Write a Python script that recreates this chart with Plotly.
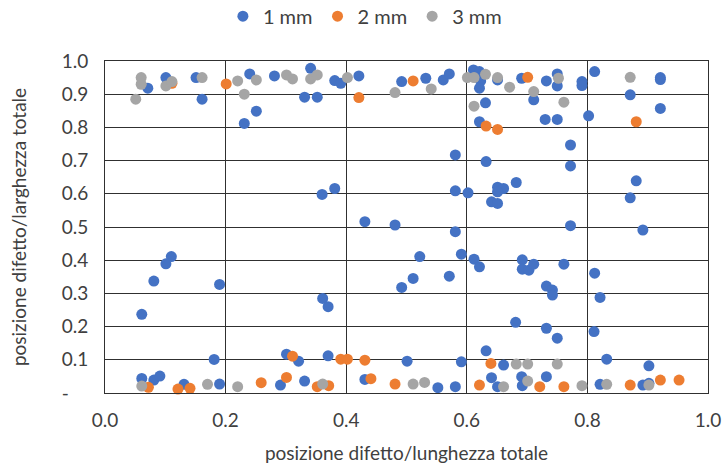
import plotly.graph_objects as go

# 1 mm series
x1 = [0.071,0.101,0.151,0.161,0.240,0.251,0.231,0.281,0.341,0.331,0.352,0.381,0.391,0.421,0.492,
      0.532,0.561,0.571,0.611,0.621,0.623,0.621,0.631,0.651,0.691,0.711,0.732,0.750,0.750,0.621,
      0.730,0.750,0.581,0.632,0.791,0.791,0.812,0.921,0.921,0.871,0.921,0.802,0.772,0.772,0.360,
      0.381,0.431,0.481,0.110,0.101,0.081,0.190,0.492,0.581,0.602,0.651,0.661,0.651,0.682,0.641,
      0.651,0.881,0.871,0.772,0.892,0.581,0.522,0.591,0.612,0.621,0.692,0.692,0.703,0.711,0.761,
      0.812,0.511,0.571,0.732,0.742,0.742,0.361,0.370,0.681,0.732,0.750,0.821,0.811,0.061,0.181,
      0.301,0.321,0.370,0.501,0.591,0.632,0.661,0.832,0.902,0.061,0.081,0.091,0.131,0.190,0.291,
      0.331,0.431,0.552,0.581,0.641,0.651,0.691,0.692,0.732,0.821,0.892,0.902]
y1 = [0.918,0.950,0.950,0.885,0.961,0.849,0.812,0.955,0.978,0.891,0.891,0.941,0.933,0.955,0.938,
      0.948,0.943,0.961,0.973,0.968,0.940,0.918,0.874,0.943,0.948,0.883,0.940,0.961,0.925,0.817,
      0.824,0.824,0.717,0.697,0.938,0.926,0.968,0.950,0.944,0.898,0.857,0.835,0.747,0.684,0.598,
      0.616,0.516,0.506,0.411,0.389,0.337,0.327,0.318,0.609,0.603,0.620,0.616,0.606,0.634,0.576,
      0.571,0.639,0.588,0.504,0.491,0.486,0.411,0.418,0.403,0.380,0.401,0.373,0.370,0.388,0.388,
      0.361,0.345,0.352,0.322,0.310,0.295,0.285,0.260,0.213,0.195,0.165,0.288,0.185,0.237,0.101,
      0.117,0.096,0.112,0.096,0.094,0.127,0.084,0.102,0.082,0.044,0.039,0.051,0.026,0.027,0.024,
      0.036,0.041,0.016,0.019,0.046,0.019,0.049,0.022,0.049,0.026,0.024,0.029]

# 2 mm series
x2 = [0.111,0.201,0.421,0.511,0.701,0.632,0.651,0.881,0.311,0.391,0.402,0.431,0.640,0.072,0.121,
      0.141,0.259,0.301,0.352,0.371,0.441,0.481,0.621,0.721,0.761,0.871,0.921,0.952]
y2 = [0.933,0.931,0.890,0.940,0.951,0.804,0.794,0.817,0.111,0.102,0.102,0.099,0.089,0.017,0.012,
      0.014,0.031,0.047,0.019,0.022,0.043,0.027,0.024,0.019,0.019,0.024,0.039,0.039]

# 3 mm series
x3 = [0.060,0.060,0.051,0.101,0.111,0.161,0.220,0.251,0.231,0.301,0.311,0.341,0.352,0.402,0.481,
      0.541,0.601,0.612,0.631,0.612,0.651,0.671,0.711,0.752,0.761,0.871,0.682,0.701,0.750,0.061,
      0.170,0.220,0.361,0.511,0.530,0.661,0.701,0.791,0.832,0.902]
y3 = [0.950,0.930,0.885,0.925,0.938,0.950,0.940,0.943,0.900,0.958,0.946,0.946,0.958,0.950,0.905,
      0.916,0.950,0.950,0.960,0.864,0.950,0.921,0.908,0.948,0.876,0.951,0.087,0.087,0.087,0.021,
      0.026,0.019,0.027,0.027,0.032,0.019,0.036,0.022,0.026,0.024]

series_names = ["1 mm", "2 mm", "3 mm"]
colors = ["#4472C4", "#ED7D31", "#A5A5A5"]

y_tickvals = [0, 0.1, 0.2, 0.3, 0.4, 0.5, 0.6, 0.7, 0.8, 0.9, 1.0]
y_ticktext = ["-\u00a0\u00a0\u00a0\u00a0", "0.1", "0.2", "0.3", "0.4", "0.5", "0.6", "0.7", "0.8", "0.9", "1.0"]
x_tickvals = [0.0, 0.2, 0.4, 0.6, 0.8, 1.0]
x_ticktext = ["0.0", "0.2", "0.4", "0.6", "0.8", "1.0"]

fig = go.Figure()
for xs, ys, name, c in zip([x1, x2, x3], [y1, y2, y3], series_names, colors):
    fig.add_trace(go.Scatter(x=xs, y=ys, mode="markers", name=name,
                             marker=dict(color=c, size=11, line=dict(width=0)),
                             cliponaxis=False))

font_family = "Lato, 'Open Sans', sans-serif"
fig.update_layout(
    width=726, height=466,
    margin=dict(l=105, r=18, t=61, b=73, autoexpand=False),
    paper_bgcolor="white", plot_bgcolor="white",
    font=dict(family=font_family, size=19, color="#404040"),
    legend=dict(orientation="h", x=0.431, xanchor="center", y=1.135, yanchor="middle",
                font=dict(size=20, color="#404040"), itemwidth=30, tracegroupgap=0),
    showlegend=True,
)
fig.update_xaxes(range=[0, 1.0], tickvals=x_tickvals, ticktext=x_ticktext,
                 showgrid=True, gridcolor="#303030", gridwidth=1,
                 showline=True, linecolor="#303030", linewidth=1, mirror=True,
                 zeroline=False, ticks="", ticklabelstandoff=10, automargin=False,
                 title=dict(text="posizione difetto/lunghezza totale", font=dict(size=19), standoff=16))
fig.update_yaxes(range=[0, 1.0], tickvals=y_tickvals, ticktext=y_ticktext,
                 showgrid=True, gridcolor="#303030", gridwidth=1,
                 showline=True, linecolor="#303030", linewidth=1, mirror=True,
                 zeroline=False, ticks="", ticklabelstandoff=12, automargin=False,
                 title=dict(text="posizione difetto/larghezza totale", font=dict(size=19), standoff=30))

fig.write_html("out.html", config={"displayModeBar": False},
               post_script="document.body.style.margin='0';document.body.style.padding='0';")
